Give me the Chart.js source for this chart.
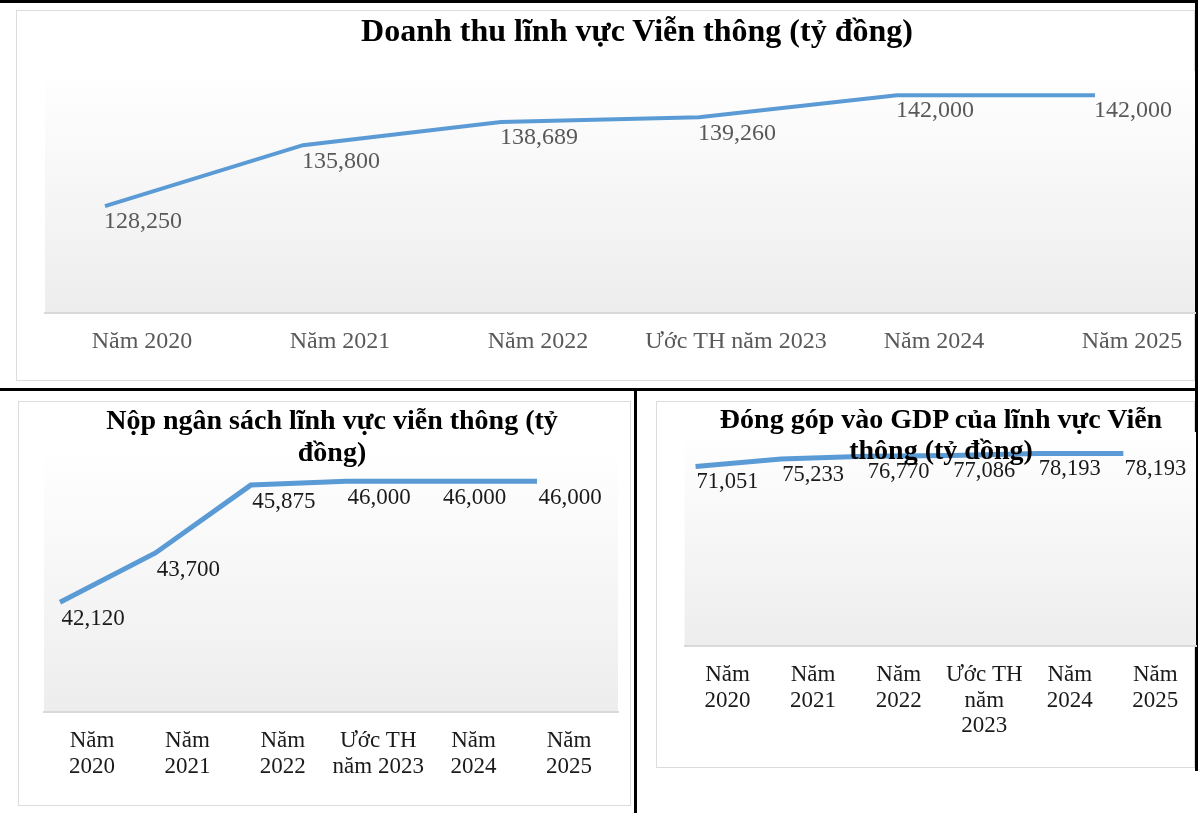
<!DOCTYPE html>
<html>
<head>
<meta charset="utf-8">
<script src="https://cdn.jsdelivr.net/npm/chart.js@4.4.1/dist/chart.umd.min.js"></script>
<style>
  html, body { margin: 0; padding: 0; background: #ffffff; }
  body { width: 1200px; height: 813px; position: relative; overflow: hidden; font-family: "Liberation Serif", "Times New Roman", serif; }
  .blk { position: absolute; background: #000; }
  .frame { position: absolute; border: 1px solid #dcdcdc; box-sizing: border-box; background: #fff; }
  .box { position: absolute; }
  .title { position: absolute; text-align: center; font-weight: bold; color: #000; z-index: 5; white-space: nowrap; }
</style>
</head>
<body>
<script>
// ---------- data ----------
const categories = ["Năm 2020", "Năm 2021", "Năm 2022", "Ước TH năm 2023", "Năm 2024", "Năm 2025"];
const tickLabelsBudget = [["Năm", "2020"], ["Năm", "2021"], ["Năm", "2022"], ["Ước TH", "năm 2023"], ["Năm", "2024"], ["Năm", "2025"]];
const tickLabelsGdp = [["Năm", "2020"], ["Năm", "2021"], ["Năm", "2022"], ["Ước TH", "năm", "2023"], ["Năm", "2024"], ["Năm", "2025"]];
const revenue = [128250, 135800, 138689, 139260, 142000, 142000];
const budget = [42120, 43700, 45875, 46000, 46000, 46000];
const gdp = [71051, 75233, 76770, 77086, 78193, 78193];
const titleRevenue = "Doanh thu lĩnh vực Viễn thông (tỷ đồng)";
const titleBudget = ["Nộp ngân sách lĩnh vực viễn thông (tỷ", "đồng)"];
const titleGdp = ["Đóng góp vào GDP của lĩnh vực Viễn", "thông (tỷ đồng)"];
</script>

<!-- table borders -->
<div class="blk" style="left:0;top:0;width:1198px;height:3px;"></div>
<div class="blk" style="left:0;top:388px;width:1198px;height:3px;"></div>
<div class="blk" style="left:1195px;top:0;width:3px;height:391px;"></div>
<div class="blk" style="left:634px;top:391px;width:3px;height:422px;"></div>
<div class="blk" style="left:1195px;top:391px;width:3px;height:380px;"></div>

<!-- frames -->
<div class="frame" style="left:16px;top:10px;width:1179px;height:371px;"></div>
<div class="frame" style="left:18px;top:401px;width:613px;height:405px;"></div>
<div class="frame" style="left:656px;top:401px;width:539px;height:367px;"></div>

<!-- chart boxes -->
<div class="box" style="left:16px;top:10px;width:1180px;height:370px;"><canvas id="c1"></canvas></div>
<div class="box" style="left:18px;top:401px;width:612px;height:404px;"><canvas id="c2"></canvas></div>
<div class="box" style="left:656px;top:401px;width:541px;height:366px;"><canvas id="c3"></canvas></div>

<div class="title" id="t1" style="left:337px;top:12px;width:600px;font-size:32px;line-height:36px;"></div>
<div class="title" id="t2" style="left:32px;top:404px;width:600px;font-size:28px;line-height:32px;"></div>
<div class="title" id="t3" style="left:641px;top:403px;width:600px;font-size:28px;line-height:31px;"></div>

<script>
document.getElementById('t1').textContent = titleRevenue;
document.getElementById('t2').innerHTML = titleBudget.join('<br>');
document.getElementById('t3').innerHTML = titleGdp.join('<br>');

const FONT = '"Liberation Serif", "Times New Roman", serif';
const LINE_COLOR = '#5B9BD5';

const gradientBg = {
  id: 'gradientBg',
  beforeDraw(chart) {
    const a = chart.chartArea, ctx = chart.ctx;
    const g = ctx.createLinearGradient(0, a.top, 0, a.bottom);
    g.addColorStop(0, '#ffffff');
    g.addColorStop(1, '#ededed');
    ctx.save();
    ctx.fillStyle = g;
    ctx.fillRect(a.left, a.top, a.right - a.left, a.bottom - a.top);
    ctx.restore();
  }
};

const dataLabels = {
  id: 'dataLabels',
  afterDatasetsDraw(chart) {
    const o = chart.options.plugins.dataLabels;
    const ctx = chart.ctx;
    ctx.save();
    ctx.font = o.size + 'px ' + FONT;
    ctx.fillStyle = o.color;
    ctx.textAlign = 'center';
    ctx.textBaseline = 'middle';
    chart.data.datasets.forEach((ds, di) => {
      chart.getDatasetMeta(di).data.forEach((el, i) => {
        ctx.fillText(ds.data[i].y.toLocaleString('en-US'), el.x + o.dx, el.y + o.dy);
      });
    });
    ctx.restore();
  }
};

function makeChart(id, values, labels, c) {
  new Chart(document.getElementById(id), {
    type: 'line',
    data: {
      datasets: [{
        data: values.map((v, i) => ({ x: i, y: v })),
        borderColor: LINE_COLOR,
        borderWidth: c.lineWidth,
        pointRadius: 0,
        tension: 0,
        fill: false
      }]
    },
    options: {
      responsive: true,
      maintainAspectRatio: false,
      animation: false,
      layout: { padding: c.padding },
      plugins: {
        legend: { display: false },
        tooltip: { enabled: false },
        dataLabels: { size: c.labelSize, color: c.textColor, dx: c.dx, dy: c.dy }
      },
      scales: {
        x: {
          type: 'linear',
          min: c.xMin,
          max: c.xMax,
          afterBuildTicks: s => { s.ticks = labels.map((_, i) => ({ value: i })); },
          afterFit: s => { s.height = c.axisH; },
          grid: { display: false, drawTicks: false },
          border: { display: true, color: '#d9d9d9', width: 2 },
          ticks: {
            callback: (v, i) => labels[i],
            autoSkip: false,
            maxRotation: 0,
            minRotation: 0,
            labelOffset: c.labelOffset,
            padding: c.tickPad,
            color: c.textColor,
            font: { family: FONT, size: c.tickSize, lineHeight: c.tickLH }
          }
        },
        y: { type: 'linear', display: false, min: c.yMin, max: c.yMax }
      }
    },
    plugins: [gradientBg, dataLabels]
  });
}

makeChart('c1', revenue, categories, {
  padding: { left: 29, right: 1, top: 61, bottom: 0 },
  axisH: 67, xMin: -0.303, xMax: 5.505, yMin: 115000, yMax: 145000,
  lineWidth: 4, labelSize: 24, tickSize: 24, tickLH: 1.2, tickPad: 14,
  labelOffset: 37, dx: 38, dy: 16, textColor: '#595959'
});
makeChart('c2', budget, tickLabelsBudget, {
  padding: { left: 26, right: 12, top: 49, bottom: 0 },
  axisH: 93, xMin: -0.168, xMax: 5.849, yMin: 38600, yMax: 47000,
  lineWidth: 5, labelSize: 23, tickSize: 23, tickLH: 1.12, tickPad: 16,
  labelOffset: 32, dx: 33, dy: 17, textColor: '#1a1a1a'
});
makeChart('c3', gdp, tickLabelsGdp, {
  padding: { left: 26, right: 1, top: 31, bottom: 0 },
  axisH: 121, xMin: -0.128, xMax: 5.849, yMin: -27300, yMax: 90000,
  lineWidth: 5, labelSize: 22.5, tickSize: 23, tickLH: 1.12, tickPad: 16,
  labelOffset: 32, dx: 32, dy: 16, textColor: '#1a1a1a'
});
</script>
</body>
</html>
